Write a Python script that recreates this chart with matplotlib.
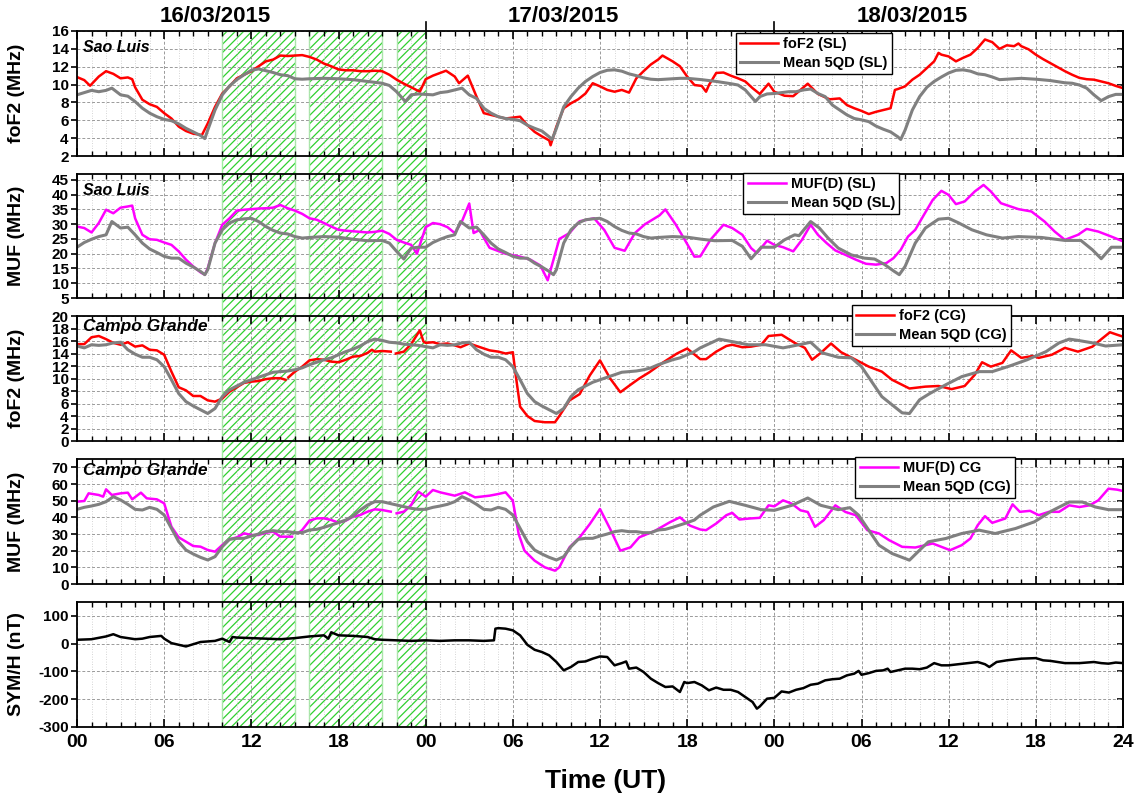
import numpy as np
import matplotlib
matplotlib.use('Agg')
import matplotlib.pyplot as plt
from matplotlib.ticker import MultipleLocator
from matplotlib.patches import Rectangle
import matplotlib.transforms as mtransforms

plt.rcParams['font.family'] = ['Liberation Sans', 'DejaVu Sans']
plt.rcParams['font.weight'] = 'bold'
plt.rcParams['hatch.linewidth'] = 0.9
plt.rcParams['axes.unicode_minus'] = False

nan = float('nan')

# ---------------- DATA (hours since 16/03/2015 00 UT, value) ----------------
day_labels = ['16/03/2015', '17/03/2015', '18/03/2015']
xtick_labels = ['00', '06', '12', '18', '00', '06', '12', '18', '00', '06', '12', '18', '24']
shade_spans = [(10, 15), (16, 21), (22, 24)]

sl_fof2 = [(0, 10.84), (0.5, 10.5), (0.9, 9.87), (1.5, 10.9), (2, 11.5), (2.5, 11.2), (3, 10.7), (3.5, 10.8),
           (3.8, 10.6), (4, 9.7), (4.5, 8.3), (5, 7.8), (5.5, 7.5), (6, 6.8), (6.5, 6.2), (7, 5.3), (7.5, 4.8),
           (8, 4.5), (8.6, 4.35), (9, 5.65), (9.5, 7.5), (10, 9.0), (10.5, 9.8), (11, 10.7), (11.5, 11.1),
           (12, 11.5), (12.5, 12.05), (13, 12.6), (13.5, 12.8), (14, 13.25), (14.5, 13.2), (15, 13.25),
           (15.5, 13.3), (16, 13.1), (16.5, 12.8), (17, 12.35), (17.5, 12.05), (18, 11.7), (18.5, 11.6),
           (19, 11.6), (19.5, 11.5), (20, 11.5), (20.5, 11.55), (21, 11.5), (21.5, 11.1), (22, 10.55),
           (22.5, 10.1), (23, 9.7), (23.6, 9.2), (24, 10.6), (24.5, 11.0), (25, 11.3), (25.4, 11.55),
           (26, 10.9), (26.3, 10.15), (26.9, 11.0), (27.5, 8.65), (28, 6.8), (28.5, 6.6), (29, 6.4),
           (29.5, 6.2), (30, 6.3), (30.5, 6.4), (31, 5.45), (31.5, 4.7), (32, 4.2), (32.5, 3.75), (32.6, 3.2),
           (33, 5.3), (33.5, 7.35), (34, 7.9), (34.5, 8.35), (35, 9.0), (35.5, 10.15), (36, 9.8), (36.5, 9.4),
           (37, 9.2), (37.5, 9.4), (38, 9.1), (38.5, 10.7), (39, 11.5), (39.5, 12.25), (40, 12.8), (40.3, 13.25),
           (41, 12.6), (41.5, 12.05), (42, 10.9), (42.5, 9.95), (43, 9.85), (43.3, 9.2), (43.5, 9.95),
           (44, 11.3), (44.5, 11.35), (45, 11.0), (45.5, 10.7), (46, 10.35), (46.5, 9.6), (47, 8.95),
           (47.6, 10.1), (48, 9.2), (48.7, 8.75), (49.3, 8.7), (50.3, 10.1), (51, 8.95), (51.8, 8.35),
           (52.5, 8.45), (53, 7.7), (53.5, 7.35), (54, 7.05), (54.5, 6.7), (55, 6.95), (55.5, 7.15),
           (56, 7.35), (56.3, 9.4), (56.5, 9.5), (57, 9.8), (57.5, 10.55), (58, 11.1), (58.5, 11.85),
           (59, 12.6), (59.3, 13.55), (59.5, 13.35), (60, 13.15), (60.5, 12.6), (61, 13.0), (61.5, 13.35),
           (62, 14.1), (62.5, 15.05), (63, 14.75), (63.5, 14.0), (64, 14.4), (64.5, 14.3), (64.8, 14.6),
           (65, 14.3), (65.5, 13.95), (66, 13.35), (66.5, 12.85), (67, 12.4), (67.5, 11.95), (68, 11.5),
           (68.5, 11.1), (69, 10.75), (69.5, 10.6), (70, 10.55), (70.5, 10.35), (71, 10.15), (71.5, 9.85),
           (72, 9.6)]

sl_fof2_qd = [(0, 8.85), (0.5, 9.1), (1, 9.35), (1.5, 9.2), (2, 9.35), (2.4, 9.6), (3, 8.85), (3.5, 8.7),
              (4, 8.1), (4.5, 7.35), (5, 6.8), (5.5, 6.4), (6, 6.1), (6.5, 5.95), (7, 5.6), (7.5, 5.1),
              (8, 4.7), (8.5, 4.3), (8.8, 3.95), (9, 4.9), (9.5, 7.15), (10, 8.85), (10.5, 9.85), (11, 10.55),
              (11.5, 11.1), (12, 11.6), (12.5, 11.75), (13, 11.55), (13.5, 11.35), (14, 11.1), (14.5, 11.0),
              (15, 10.65), (15.5, 10.6), (16, 10.65), (17, 10.7), (18, 10.65), (19, 10.55), (20, 10.35),
              (21, 10.15), (21.5, 9.9), (22, 9.2), (22.6, 8.1), (23, 8.85), (23.5, 8.95), (24, 8.9),
              (24.5, 8.85), (25, 9.1), (25.5, 9.2), (26, 9.4), (26.5, 9.6), (27, 8.85), (27.5, 8.45),
              (28, 7.35), (28.5, 6.8), (29, 6.4), (29.5, 6.2), (30, 6.1), (30.5, 5.95), (31, 5.45), (31.5, 5.1),
              (32, 4.8), (32.5, 4.15), (32.7, 3.85), (33, 5.1), (33.5, 7.5), (34, 8.65), (34.5, 9.6),
              (35, 10.35), (35.5, 10.9), (36, 11.35), (36.5, 11.6), (37, 11.65), (37.5, 11.5), (38, 11.2),
              (38.5, 11.0), (39, 10.75), (39.5, 10.6), (40, 10.55), (41, 10.65), (41.5, 10.7), (42, 10.7),
              (43, 10.55), (44, 10.35), (45, 10.1), (45.5, 9.95), (46, 9.4), (46.7, 8.1), (47, 8.65),
              (47.5, 8.95), (48, 9.0), (48.5, 9.1), (49, 9.2), (49.5, 9.2), (50, 9.4), (50.5, 9.5), (51, 9.0),
              (51.5, 8.65), (52, 7.7), (52.5, 7.15), (53, 6.6), (53.5, 6.2), (54, 6.05), (54.5, 5.85),
              (55, 5.35), (55.5, 5.0), (56, 4.7), (56.5, 4.15), (56.7, 3.85), (57, 4.9), (57.5, 7.15),
              (58, 8.65), (58.5, 9.7), (59, 10.35), (59.5, 10.85), (60, 11.3), (60.5, 11.6), (61, 11.65),
              (61.5, 11.5), (62, 11.2), (62.5, 11.1), (63, 10.85), (63.5, 10.55), (64, 10.6), (65, 10.7),
              (66, 10.6), (67, 10.45), (68, 10.2), (68.5, 10.15), (69, 9.95), (69.5, 9.6), (70, 8.85),
              (70.5, 8.2), (71, 8.65), (71.5, 8.9), (72, 8.9)]

sl_muf = [(0, 29.2), (0.5, 28.7), (1, 27.2), (1.5, 30.4), (2, 34.9), (2.5, 33.7), (3, 35.6), (3.5, 36.0),
          (3.8, 36.3), (4, 32.0), (4.5, 26.4), (5, 24.9), (5.5, 24.7), (6, 23.8), (6.5, 23.0), (7, 20.8),
          (7.5, 18.0), (8, 15.7), (8.5, 13.7), (8.8, 12.9), (9, 15.1), (9.5, 23.6), (10, 29.8), (10.5, 32.0),
          (11, 34.6), (11.5, 34.9), (12, 35.1), (12.5, 35.3), (13, 35.4), (13.5, 35.6), (14, 36.5),
          (14.5, 35.4), (15, 34.6), (15.5, 33.5), (16, 32.0), (16.5, 31.5), (17, 30.4), (17.5, 29.2),
          (18, 28.1), (18.5, 27.8), (19, 27.6), (19.5, 27.4), (20, 27.2), (20.5, 27.4), (21, 27.8),
          (21.5, 26.7), (22, 24.7), (22.5, 23.8), (23, 23.0), (23.4, 20.0), (23.7, 24.5), (24, 29.0),
          (24.5, 30.4), (25, 30.0), (25.5, 29.0), (26, 27.0), (26.5, 31.0), (27, 37.0), (27.3, 27.0),
          (27.7, 28.0), (28.4, 22.0), (29.5, 20.0), (30.5, 19.0), (31.2, 18.0), (31.9, 16.0), (32.4, 11.0),
          (33.2, 25.0), (33.9, 27.0), (34.6, 31.0), (35.6, 32.0), (36.3, 28.0), (37.0, 22.0), (37.7, 21.0),
          (38.4, 27.0), (39.1, 30.0), (40.1, 33.0), (40.5, 35.0), (41.2, 30.0), (41.8, 25.0), (42.5, 19.0),
          (42.9, 19.1), (43.6, 24.7), (44.5, 29.8), (45.1, 28.7), (45.8, 26.4), (46.4, 21.9), (46.8, 20.2),
          (47.5, 24.4), (48.0, 23.0), (48.6, 22.2), (49.3, 20.8), (49.9, 24.7), (50.5, 29.8), (51.0, 26.4),
          (51.6, 23.6), (52.2, 21.1), (52.9, 19.6), (53.6, 18.0), (54.3, 16.6), (55.0, 16.3), (55.7, 16.8),
          (56.2, 18.5), (56.7, 21.3), (57.2, 25.8), (57.7, 28.1), (58.3, 33.2), (58.9, 38.2), (59.5, 41.3),
          (60.0, 39.9), (60.5, 36.8), (61.1, 37.7), (61.8, 41.1), (62.4, 43.3), (62.9, 41.1), (63.6, 37.1),
          (64.8, 35.1), (65.7, 34.3), (66.6, 30.9), (67.3, 27.5), (68.0, 24.7), (68.9, 26.4), (69.5, 28.4),
          (70.3, 27.5), (71.2, 25.8), (72, 24.2)]

sl_muf_qd = [(0, 22.2), (0.5, 23.8), (1, 24.9), (1.5, 25.8), (2, 26.4), (2.4, 30.9), (3, 28.7), (3.5, 29.0),
             (4, 26.4), (4.5, 23.6), (5, 21.6), (5.5, 20.4), (6, 19.1), (6.5, 18.5), (7, 18.5), (7.5, 16.8),
             (8, 15.5), (8.5, 14.0), (8.8, 12.9), (9, 14.6), (9.5, 23.6), (10, 28.1), (10.5, 30.4),
             (11, 31.5), (11.5, 31.8), (12, 32.0), (12.5, 30.9), (13, 29.2), (13.5, 27.9), (14, 27.0),
             (14.5, 26.7), (15, 25.8), (15.5, 25.3), (16, 25.5), (17, 25.8), (18, 25.6), (19, 24.9),
             (20, 24.4), (21, 24.5), (21.5, 23.6), (22, 20.8), (22.5, 18.2), (23, 21.9), (23.5, 22.2),
             (24, 22.2), (24.5, 23.8), (25, 24.9), (25.5, 25.8), (26, 26.4), (26.4, 30.9), (27, 28.7),
             (27.5, 29.0), (28, 26.4), (28.5, 23.6), (29, 21.6), (29.5, 20.4), (30, 19.1), (30.5, 18.5),
             (31, 18.5), (31.5, 16.8), (32, 15.5), (32.5, 14.0), (32.8, 12.9), (33, 14.6), (33.5, 23.6),
             (34, 28.1), (34.5, 30.4), (35, 31.5), (35.5, 31.8), (36, 32.0), (36.5, 30.9), (37, 29.2),
             (37.5, 27.9), (38, 27.0), (38.5, 26.7), (39, 25.8), (39.5, 25.3), (40, 25.5), (41, 25.8),
             (42, 25.6), (43, 24.9), (43.9, 24.4), (45.1, 24.5), (45.8, 22.5), (46.4, 18.3), (47.1, 22.2),
             (48.0, 22.2), (48.7, 24.7), (49.4, 26.4), (49.7, 26.1), (50.5, 30.9), (51.1, 28.7), (51.7, 25.3),
             (52.4, 21.9), (53.3, 19.6), (54.2, 18.5), (54.9, 18.2), (55.6, 16.3), (56.2, 14.2), (56.6, 12.9),
             (57.0, 15.7), (57.7, 23.6), (58.4, 28.7), (59.3, 31.7), (60.0, 32.0), (60.7, 30.4), (61.6, 28.1),
             (62.6, 26.4), (63.7, 25.3), (64.8, 25.8), (66.4, 25.5), (68.0, 24.5), (69.1, 24.5), (69.9, 21.3),
             (70.5, 18.3), (71.2, 22.2), (72, 22.2)]

cg_fof2 = [(0, 15.5), (0.5, 15.5), (1, 16.6), (1.5, 16.8), (2, 16.3), (2.5, 15.7), (3, 15.4), (3.5, 15.8),
           (4, 15.1), (4.5, 15.3), (5, 14.6), (5.5, 14.5), (6, 13.8), (6.5, 11.1), (7, 8.6), (7.5, 8.1),
           (8, 7.2), (8.5, 7.2), (9, 6.5), (9.5, 6.3), (10, 6.8), (10.5, 7.9), (11, 8.6), (11.5, 9.3),
           (12, 9.5), (12.5, 9.6), (13, 9.9), (13.5, 10.05), (14, 10.05), (14.35, 9.8), (14.45, nan),
           (14.55, 10.2), (15, 11.1), (15.5, 11.9), (16, 12.9), (16.5, 13.1), (17, 13.0), (17.5, 12.7),
           (18, 12.6), (18.5, 13.0), (19, 13.5), (19.5, 13.6), (20, 14.1), (20.3, 14.6), (20.5, 14.3),
           (21, 14.4), (21.6, 14.3), (21.75, nan), (21.95, 14.0), (22.5, 14.3), (23, 15.5), (23.6, 17.7),
           (23.85, 15.9), (24, 15.7), (24.5, 15.8), (25, 15.5), (25.5, 15.6), (26, 15.3), (26.4, 15.0),
           (27, 15.6), (27.5, 15.2), (28.4, 14.5), (29, 14.3), (29.5, 14.0), (30, 14.2), (30.2, 10.5),
           (30.5, 5.5), (31, 4.0), (31.5, 3.2), (32.2, 3.0), (32.9, 3.0), (33.2, 4.0), (33.9, 6.5), (34.6, 7.5),
           (35.3, 10.5), (36.0, 12.9), (36.7, 10.0), (37.4, 7.8), (38.1, 9.0), (38.7, 10.0), (39.4, 11.0),
           (40.3, 12.5), (41.3, 14.0), (42.0, 14.8), (42.9, 13.1), (43.3, 13.1), (44.0, 14.3), (44.7, 15.2),
           (45.1, 15.4), (45.8, 15.0), (46.4, 15.1), (47.1, 15.4), (47.6, 16.8), (48.5, 17.0), (49.4, 15.7),
           (50.1, 14.9), (50.6, 13.0), (51.2, 14.1), (51.9, 15.6), (52.6, 14.2), (53.6, 13.0), (54.5, 11.9),
           (55.4, 11.1), (56.1, 9.8), (57.3, 8.4), (58.4, 8.7), (59.3, 8.8), (60.2, 8.3), (61.1, 8.8),
           (61.8, 10.6), (62.3, 12.6), (62.9, 11.9), (63.7, 12.5), (64.3, 14.5), (65.0, 13.3), (65.8, 13.6),
           (66.2, 13.3), (67.1, 13.8), (68.0, 14.9), (68.9, 14.3), (69.9, 15.1), (70.3, 15.9), (71.1, 17.4),
           (71.6, 17.0), (72, 16.7)]

cg_fof2_qd = [(0, 15.2), (0.5, 14.9), (1, 15.4), (1.5, 15.3), (2, 15.4), (2.5, 15.7), (3, 15.8), (3.5, 14.6),
              (4, 13.9), (4.5, 13.4), (5, 13.4), (5.5, 13.0), (6, 11.9), (6.5, 9.8), (7, 7.6), (7.5, 6.3),
              (8, 5.6), (8.5, 5.0), (9, 4.4), (9.5, 5.2), (10, 7.1), (10.5, 8.2), (11, 8.8), (11.5, 9.4),
              (12, 9.8), (12.5, 10.2), (13, 10.6), (13.5, 11.0), (14, 11.1), (14.5, 11.2), (15, 11.4),
              (15.5, 11.7), (16, 12.2), (16.5, 12.6), (17, 13.0), (17.5, 13.3), (18, 13.8), (18.5, 14.3),
              (19, 14.7), (19.5, 15.2), (20, 15.9), (20.5, 16.3), (21, 16.1), (21.5, 15.8), (22, 15.7),
              (22.5, 15.5), (23, 15.4), (23.5, 15.3), (24, 15.1), (24.5, 14.9), (25, 15.4), (25.5, 15.3),
              (26, 15.4), (26.5, 15.7), (27, 15.8), (27.5, 14.6), (28, 13.9), (28.5, 13.4), (29, 13.4),
              (29.5, 13.0), (30, 11.9), (30.5, 9.8), (31, 7.6), (31.5, 6.3), (32, 5.6), (32.5, 5.0), (33, 4.4),
              (33.5, 5.2), (34, 7.1), (34.5, 8.2), (35, 8.8), (35.5, 9.4), (36, 9.8), (36.5, 10.2), (37, 10.6),
              (37.5, 11.0), (38, 11.1), (38.5, 11.2), (39, 11.4), (39.5, 11.7), (40, 12.2), (40.5, 12.6),
              (41, 13.0), (41.5, 13.3), (42, 13.8), (42.5, 14.3), (42.9, 14.9), (44.2, 16.3), (45.1, 15.9),
              (46.2, 15.4), (47.4, 15.4), (48.6, 14.9), (49.7, 15.4), (50.5, 15.8), (51.3, 14.1), (52.4, 13.4),
              (53.3, 13.3), (54.0, 11.9), (54.7, 9.5), (55.4, 7.1), (56.1, 5.8), (56.8, 4.5), (57.3, 4.4),
              (58.0, 6.6), (58.7, 7.6), (59.8, 9.0), (60.9, 10.3), (62.1, 11.1), (63.0, 11.1), (64.2, 12.0),
              (65.4, 13.0), (66.7, 14.3), (67.6, 15.7), (68.3, 16.3), (68.9, 16.1), (69.9, 15.7), (70.8, 15.2),
              (72, 15.4)]

cg_muf = [(0, 49.4), (0.5, 49.8), (0.8, 54.4), (1.5, 53.4), (1.8, 52.4), (2.0, 56.8), (2.4, 53.4), (3, 54.4),
          (3.5, 54.8), (3.8, 50.8), (4.4, 54.8), (4.8, 51.4), (5.5, 50.8), (6, 48.4), (6.5, 34.4), (7, 28.0),
          (7.5, 25.4), (8, 22.8), (8.5, 22.4), (9, 20.4), (9.5, 19.4), (10, 23.4), (10.5, 26.8), (11, 28.0),
          (11.5, 30.4), (12, 29.4), (12.5, 29.4), (13, 30.8), (13.5, 31.4), (14, 28.4), (14.5, 28.4),
          (14.8, 28.4), (15.0, nan), (15.3, 31.0), (15.5, 32.4), (16, 38.0), (16.5, 39.4), (17, 39.4),
          (17.5, 38.4), (18, 36.8), (18.5, 38.0), (19, 40.4), (19.5, 41.4), (20, 43.4), (20.5, 44.8),
          (21, 44.4), (21.6, 43.4), (21.8, nan), (22.0, 42.4), (22.5, 43.4), (23, 47.4), (23.5, 55.4),
          (24, 52.4), (24.5, 56.4), (25, 55.0), (25.5, 54.0), (26, 53.0), (26.7, 55.0), (27.4, 52.0),
          (28.4, 53.0), (29, 54.0), (29.5, 55.0), (30, 50.0), (30.4, 30.0), (30.8, 20.0), (31.5, 14.0),
          (32.2, 10.0), (32.9, 8.0), (33.2, 10.0), (33.9, 22.0), (34.6, 28.0), (35.3, 36.0), (36.0, 45.0),
          (36.7, 33.0), (37.4, 20.0), (38.1, 22.0), (38.7, 28.0), (39.8, 32.0), (40.8, 37.0), (41.5, 40.0),
          (42.2, 35.0), (42.9, 32.7), (43.3, 32.3), (44.0, 36.3), (44.7, 41.3), (45.1, 42.7), (45.6, 38.7),
          (46.3, 39.3), (47.0, 39.7), (47.6, 47.2), (48.0, 46.6), (48.6, 50.2), (49.2, 48.2), (49.8, 44.2),
          (50.3, 43.2), (50.8, 34.3), (51.4, 38.3), (52.2, 47.2), (52.9, 43.2), (53.6, 41.3), (54.4, 32.3),
          (55.2, 30.3), (55.9, 26.3), (56.8, 22.3), (57.7, 21.9), (58.9, 24.3), (59.5, 22.3), (60.1, 20.3),
          (60.9, 23.3), (61.5, 27.3), (62.0, 35.3), (62.5, 40.7), (63.0, 36.7), (63.9, 39.3), (64.4, 47.8),
          (64.9, 43.3), (65.6, 43.9), (66.2, 41.3), (66.9, 43.3), (67.6, 43.3), (68.3, 47.2), (69.0, 46.2),
          (69.7, 47.2), (70.3, 50.2), (71.0, 57.2), (71.6, 56.6), (72, 55.8)]

cg_muf_qd = [(0, 44.8), (0.5, 46.0), (1, 46.8), (1.5, 47.8), (2, 49.4), (2.5, 52.4), (3, 50.4), (3.5, 47.8),
             (4, 44.8), (4.5, 44.4), (5, 46.0), (5.5, 44.8), (6, 41.4), (6.5, 33.4), (7, 25.4), (7.5, 20.4),
             (8, 18.0), (8.5, 16.0), (9, 14.4), (9.5, 16.4), (10, 22.4), (10.5, 26.8), (11, 27.4), (11.5, 27.4),
             (12, 28.8), (12.5, 30.0), (13, 31.4), (13.5, 32.0), (14, 31.4), (14.5, 31.4), (15, 30.8),
             (15.5, 30.8), (16, 32.4), (16.5, 32.8), (17, 34.0), (17.5, 35.4), (18, 36.8), (18.5, 38.4),
             (19, 40.8), (19.5, 44.4), (20, 47.4), (20.5, 49.4), (21, 49.4), (21.5, 48.4), (22, 47.4),
             (22.5, 46.4), (23, 45.4), (23.5, 44.8), (24, 44.8), (24.5, 46.0), (25, 46.8), (25.5, 47.8),
             (26, 49.4), (26.5, 52.4), (27, 50.4), (27.5, 47.8), (28, 44.8), (28.5, 44.4), (29, 46.0),
             (29.5, 44.8), (30, 41.4), (30.5, 33.4), (31, 25.4), (31.5, 20.4), (32, 18.0), (32.5, 16.0),
             (33, 14.4), (33.5, 16.4), (34, 22.4), (34.5, 26.8), (35, 27.4), (35.5, 27.4), (36, 28.8),
             (36.5, 30.0), (37, 31.4), (37.5, 32.0), (38, 31.4), (38.5, 31.4), (39, 30.8), (39.5, 30.8),
             (40, 32.4), (40.5, 32.8), (41, 34.0), (41.5, 35.4), (42, 36.8), (42.5, 38.4), (42.9, 41.3),
             (43.8, 46.2), (44.9, 49.6), (46.0, 47.2), (47.1, 44.6), (48.0, 44.2), (49.2, 47.2), (50.3, 51.6),
             (51.2, 47.2), (52.4, 44.6), (53.2, 45.8), (53.8, 41.3), (54.5, 32.3), (55.2, 23.3), (56.1, 18.3),
             (57.3, 14.3), (58.0, 20.3), (58.6, 25.3), (59.8, 27.3), (60.9, 30.3), (62.1, 32.3), (63.2, 30.3),
             (64.6, 33.3), (65.9, 37.3), (67.1, 43.9), (68.3, 49.2), (69.2, 49.2), (70.1, 46.2), (71.0, 44.6),
             (72, 44.6)]

symh = [(0, 14), (1, 16), (2, 26), (2.5, 34), (3, 24), (4, 16), (4.5, 18), (5, 24), (5.8, 28), (6, 18),
        (6.5, 2), (7, -4), (7.5, -10), (8, -2), (8.5, 6), (9, 8), (9.5, 10), (10, 18), (10.5, 6), (10.7, 24),
        (11, 22), (12, 20), (13, 18), (14, 16), (15, 20), (16, 26), (17, 30), (17.3, 18), (17.5, 41), (18, 30),
        (19, 28), (20, 24), (20.5, 16), (21, 14), (22, 12), (23, 10), (24, 12), (25, 10), (26, 12), (27, 12),
        (28, 10), (28.7, 12), (28.8, 54), (29, 56), (29.5, 54), (30, 48), (30.5, 30), (31, -4), (31.5, -22),
        (32, -30), (32.5, -42), (33, -66), (33.5, -96), (34, -84), (34.5, -66), (35, -64), (35.5, -54),
        (36, -46), (36.5, -48), (37, -78), (37.5, -70), (37.8, -64), (38, -90), (38.5, -86), (39, -102),
        (39.5, -126), (40, -142), (40.5, -156), (41, -154), (41.5, -174), (41.8, -138), (42, -142),
        (42.5, -138), (43, -150), (43.5, -168), (44, -158), (44.5, -166), (45, -166), (45.5, -174),
        (46, -192), (46.5, -210), (46.8, -234), (47, -226), (47.5, -198), (48, -195), (48.5, -172),
        (49, -176), (49.5, -166), (50, -160), (50.5, -148), (51, -144), (51.5, -132), (52, -128),
        (52.5, -126), (53, -114), (53.5, -108), (53.8, -98), (54, -112), (54.5, -106), (55, -98),
        (55.5, -96), (55.8, -90), (56, -102), (56.5, -96), (57, -90), (57.5, -90), (58, -92), (58.5, -86),
        (59, -70), (59.5, -78), (60, -78), (61, -72), (62, -66), (62.5, -74), (62.8, -84), (63.3, -66),
        (64, -60), (65, -54), (66, -52), (66.5, -60), (67, -62), (68, -70), (69, -70), (70, -66),
        (70.5, -70), (71, -72), (71.5, -68), (72, -70)]

# ---------------- FIGURE ----------------
W, H = 1141, 796
fig = plt.figure(figsize=(W / 100, H / 100), dpi=100)
fig.patch.set_facecolor('white')
L, WD = 77 / W, 1046 / W
rows = [(31, 156), (174, 298), (316, 441), (459, 584), (602, 727)]


def rect(t, b):
    return [L, 1 - b / H, WD, (b - t) / H]


bg = fig.add_axes(rect(31, 727), zorder=0)
bg.set_xlim(0, 72)
bg.set_ylim(0, 1)
bg.axis('off')
for x0, x1 in shade_spans:
    bg.add_patch(Rectangle((x0, 0), x1 - x0, 1, facecolor='none', edgecolor='#30D030',
                           hatch='////', lw=0))
    bg.add_patch(Rectangle((x0, 0), x1 - x0, 1, facecolor='none', edgecolor='#A0EEA0', lw=1.0))

RED, MAG, GRAY = '#FF0000', '#FF00FF', '#808080'

panels = [
    dict(series=[(sl_fof2, RED, 'foF2 (SL)'), (sl_fof2_qd, GRAY, 'Mean 5QD (SL)')],
         ylim=(2, 16), yt=range(2, 17, 2), ylabel='foF2 (MHz)', station='Sao Luis', sy=0.87, ssz=11.5,
         leg=(0.630, 0.985)),
    dict(series=[(sl_muf, MAG, 'MUF(D) (SL)'), (sl_muf_qd, GRAY, 'Mean 5QD (SL)')],
         ylim=(5, 47), yt=range(5, 46, 5), ylabel='MUF (MHz)', station='Sao Luis', sy=0.865, ssz=11.5,
         leg=(0.637, 1.008)),
    dict(series=[(cg_fof2, RED, 'foF2 (CG)'), (cg_fof2_qd, GRAY, 'Mean 5QD (CG)')],
         ylim=(0, 20), yt=range(0, 21, 2), ylabel='foF2 (MHz)', station='Campo Grande', sy=0.914, ssz=12.5,
         leg=(0.741, 1.088)),
    dict(series=[(cg_muf, MAG, 'MUF(D) CG'), (cg_muf_qd, GRAY, 'Mean 5QD (CG)')],
         ylim=(0, 75), yt=range(0, 71, 10), ylabel='MUF (MHz)', station='Campo Grande', sy=0.912, ssz=12.5,
         leg=(0.744, 1.016)),
    dict(series=[(symh, 'black', None)],
         ylim=(-300, 150), yt=range(-300, 101, 100), ylabel='SYM/H (nT)', station=None, sy=0, ssz=0,
         leg=None),
]

axes = []
for i, ((t, b), p) in enumerate(zip(rows, panels)):
    ax = fig.add_axes(rect(t, b), zorder=2 if p['leg'] else 1)
    ax.set_facecolor('none')
    ax.set_xlim(0, 72)
    ax.set_ylim(*p['ylim'])
    ax.xaxis.set_major_locator(MultipleLocator(6))
    ax.xaxis.set_minor_locator(MultipleLocator(1))
    ax.set_yticks(list(p['yt']))
    ax.grid(which='major', ls=(0, (3, 2)), color='#9A9A9A', lw=0.7)
    ax.grid(which='minor', axis='x', ls=(0, (1, 2)), color='#C8C8C8', lw=0.6)
    ax.set_axisbelow(True)
    ax.tick_params(axis='x', which='both', direction='in', top=True, bottom=True,
                   labelbottom=(i == 4), labelsize=14, pad=5)
    ax.tick_params(axis='x', which='major', length=6, width=1.2)
    ax.tick_params(axis='x', which='minor', length=3.5, width=1.0)
    ax.tick_params(axis='y', direction='out', length=4, width=1.2, labelsize=11, pad=2)
    sec = ax.secondary_yaxis('right')
    sec.set_yticks(list(p['yt']))
    sec.tick_params(direction='in', length=4, width=1.2, labelright=False)
    for s in list(ax.spines.values()) + list(sec.spines.values()):
        s.set_linewidth(1.3)
    for data, col, lab in p['series']:
        tt = [d[0] for d in data]
        vv = [d[1] for d in data]
        lw = 2.2 if col == GRAY else 1.8
        ax.plot(tt, vv, color=col, lw=lw, label=lab, solid_joinstyle='round')
    ax.set_ylabel(p['ylabel'], fontsize=14, fontweight='bold')
    ax.yaxis.set_label_coords(-0.050, 0.5)
    if p['station']:
        ax.text(0.006, p['sy'], p['station'], transform=ax.transAxes, fontsize=p['ssz'],
                fontstyle='italic', fontweight='bold', ha='left', va='center')
    if p['leg']:
        lg = ax.legend(loc='upper left', bbox_to_anchor=p['leg'], fontsize=10.5, frameon=True,
                       fancybox=False, framealpha=1, edgecolor='black', handlelength=2.6,
                       handletextpad=0.35, labelspacing=0.3, borderpad=0.3, borderaxespad=0)
        lg.get_frame().set_linewidth(1.0)
    axes.append(ax)

axes[4].set_xticks(range(0, 73, 6))
axes[4].set_xticklabels(xtick_labels)

# day boundary marks and date titles on top panel
ax1 = axes[0]
trans = mtransforms.blended_transform_factory(ax1.transData, ax1.transAxes)
for xb in (24, 48):
    ax1.plot([xb, xb], [1.0, 1.072], transform=trans, color='black', lw=1.2, clip_on=False)
for k, lab in enumerate(day_labels):
    ax1.text(24 * k + 9.5, 1.035, lab, transform=trans, ha='center', va='bottom',
             fontsize=16, fontweight='bold')

fig.text(606 / W, 1 - 781 / H, 'Time (UT)', ha='center', va='center', fontsize=19, fontweight='bold')

fig.savefig('out.png', dpi=100, facecolor='white')
